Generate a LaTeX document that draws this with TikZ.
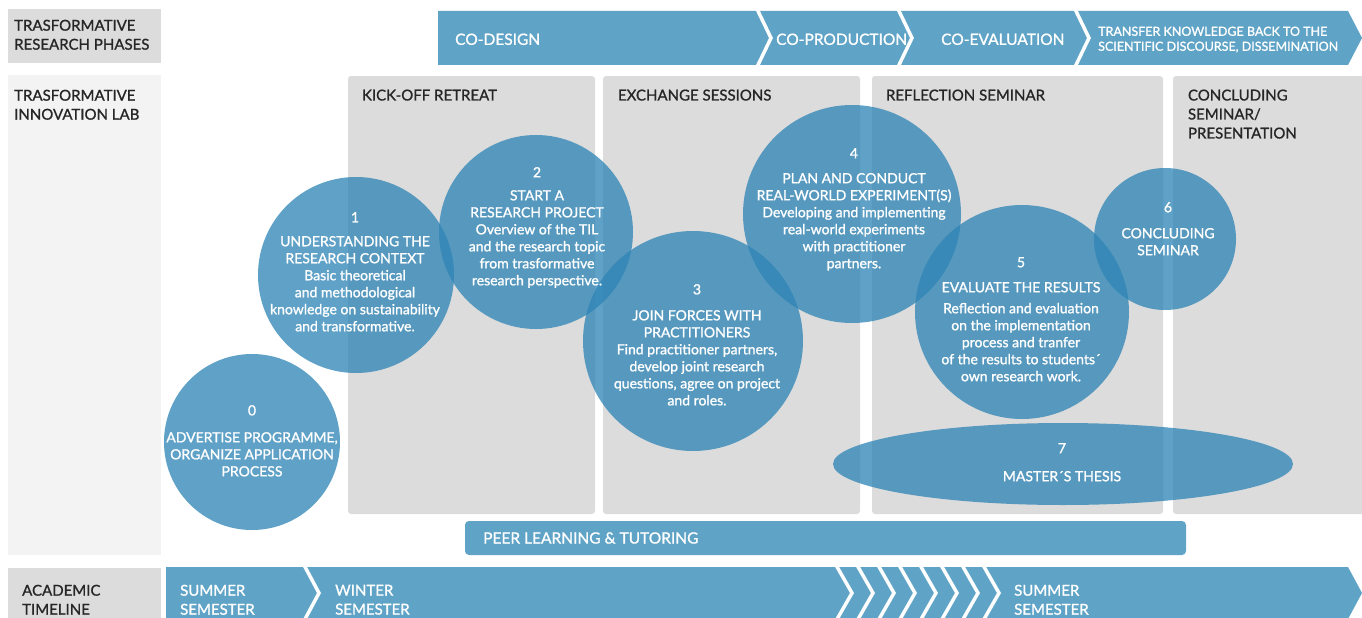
\documentclass[tikz,border=0pt]{standalone}
\usepackage{fontspec}
\setmainfont{Lato}
\newfontfamily\medfont{Lato}[FakeBold=1.1]
\usetikzlibrary{shapes.geometric,positioning}
\definecolor{bandblue}{HTML}{5FA3C6}
\definecolor{circblue}{HTML}{2F85B6}
\definecolor{panelgray}{HTML}{DCDCDC}
\definecolor{lightgray}{HTML}{F3F3F3}
\definecolor{textdark}{HTML}{262626}
\tikzstyle{labelbox}=[fill=panelgray, inner sep=0pt]
\tikzstyle{panel}=[fill=panelgray, rounded corners=3pt, inner sep=0pt, minimum height=438pt]
\tikzstyle{circ}=[circle, fill=circblue, fill opacity=0.77, inner sep=0pt]
\tikzstyle{circtext}=[text=white, align=center, anchor=north, inner sep=0pt, font=\medfont\fontsize{14}{17}\selectfont]
\tikzstyle{rowlabel}=[text=textdark, align=left, anchor=north west, inner sep=0pt, font=\medfont\fontsize{15}{19}\selectfont]
\tikzstyle{coltitle}=[text=textdark, align=left, anchor=north west, inner sep=0pt, font=\medfont\fontsize{15}{19}\selectfont]
\tikzstyle{bandtext}=[text=white, align=left, anchor=north west, inner sep=0pt, font=\medfont\fontsize{15.5}{19}\selectfont]
\tikzstyle{gap}=[white, line width=3.5pt]

\begin{document}
\begin{tikzpicture}[x=1pt, y=-1pt]
	\useasboundingbox (0,0) rectangle (1362,618);
	% row labels
	\node[labelbox, minimum width=153pt, minimum height=54pt] (phasebox) at (84.5,36) {};
	\node[fill=lightgray, inner sep=0pt, minimum width=153pt, minimum height=480pt] (labbox) at (84.5,315) {};
	\node[labelbox, minimum width=153pt, minimum height=52pt] (timebox) at (84.5,594) {};
	\node[rowlabel] (phasename) at (14,19.6) {TRASFORMATIVE\\RESEARCH PHASES};
	\node[rowlabel] (labname) at (14,89.6) {TRASFORMATIVE\\INNOVATION LAB};
	\node[rowlabel] (timename) at (22,584.6) {ACADEMIC\\TIMELINE};
	% research phases
	\fill[bandblue] (438,11) -- (1348,11) -- (1362,38) -- (1348,65) -- (438,65) -- cycle;
	\foreach \x in {757,898,1075}
		\draw[gap] (\x,9) -- (\x+14,38) -- (\x,67);
	\node[bandtext] (codesign) at (455,33.4) {CO-DESIGN};
	\node[bandtext] (coprod) at (776,33.4) {CO-PRODUCTION};
	\node[bandtext] (coeval) at (941,33.4) {CO-EVALUATION};
	\node[bandtext, font=\medfont\fontsize{12.5}{15}\selectfont] (transfer) at (1098,26.5) {TRANSFER KNOWLEDGE BACK TO THE\\SCIENTIFIC DISCOURSE, DISSEMINATION};
	% lab sessions
	\node[panel, minimum width=247pt] (kick) at (471.5,295) {};
	\node[panel, minimum width=257pt] (exch) at (731.5,295) {};
	\node[panel, minimum width=291pt] (refl) at (1017.5,295) {};
	\node[panel, minimum width=192pt] (concl) at (1269,295) {};
	\node[coltitle] (kickname) at ([shift={(14,13.6)}]kick.north west) {KICK-OFF RETREAT};
	\node[coltitle] (exchname) at ([shift={(15,13.6)}]exch.north west) {EXCHANGE SESSIONS};
	\node[coltitle] (reflname) at ([shift={(14,13.6)}]refl.north west) {REFLECTION SEMINAR};
	\node[coltitle] (conclname) at ([shift={(15,13.6)}]concl.north west) {CONCLUDING\\SEMINAR/\\PRESENTATION};
	\node[fill=bandblue, rounded corners=4pt, inner sep=0pt, minimum width=721pt, minimum height=34pt] (peer) at (825.5,538) {};
	\node[bandtext, anchor=west] (peername) at (483,538) {PEER LEARNING \& TUTORING};
	% steps
	\node[circ, minimum size=176pt] (c0) at (252,442) {};
	\node[circ, minimum size=196pt] (c1) at (356,275) {};
	\node[circ, minimum size=194pt] (c2) at (536,232) {};
	\node[circ, minimum size=220pt] (c3) at (693,341) {};
	\node[circ, minimum size=218pt] (c4) at (852,214) {};
	\node[circ, minimum size=214pt] (c5) at (1022,312) {};
	\node[circ, minimum size=142pt] (c6) at (1165,239) {};
	\node[circ, ellipse, minimum width=460pt, minimum height=82pt] (c7) at (1063,464) {};
	\node[circtext] (t0) at (252,405) {0\\[10pt]ADVERTISE PROGRAMME,\\ORGANIZE APPLICATION\\PROCESS};
	\node[circtext] (t1) at (355,212) {1\\[7pt]UNDERSTANDING THE\\RESEARCH CONTEXT\\Basic theoretical\\and methodological\\knowledge on sustainability\\and transformative.};
	\node[circtext] (t2) at (537,167) {2\\[6pt]START A\\RESEARCH PROJECT\\Overview of the TIL\\and the research topic\\from trasformative\\research perspective.};
	\node[circtext] (t3) at (697,284) {3\\[9pt]JOIN FORCES WITH\\PRACTITIONERS\\Find practitioner partners,\\develop joint research\\questions, agree on project\\and roles.};
	\node[circtext] (t4) at (854,148) {4\\[8pt]PLAN AND CONDUCT\\REAL-WORLD EXPERIMENT(S)\\Developing and implementing\\real-world experiments\\with practitioner\\partners.};
	\node[circtext] (t5) at (1021,257) {5\\[8pt]EVALUATE THE RESULTS\\[4pt]Reflection and evaluation\\on the implementation\\process and tranfer\\of the results to students´\\own research work.};
	\node[circtext] (t6) at (1168,202) {6\\[9pt]CONCLUDING\\SEMINAR};
	\node[circtext] (t7) at (1062,443) {7\\[11pt]MASTER´S THESIS};
	% academic timeline
	\fill[bandblue] (166,567) -- (1348,567) -- (1362,593) -- (1348,619) -- (166,619) -- cycle;
	\draw[gap] (304,565) -- (319,593) -- (304,621);
	\foreach \i in {0,...,7}
		\draw[gap] (836+21*\i,565) -- (852+21*\i,593) -- (836+21*\i,621);
	\node[bandtext, font=\medfont\fontsize{15}{19}\selectfont] (summer) at (180,584.6) {SUMMER\\SEMESTER};
	\node[bandtext, font=\medfont\fontsize{15}{19}\selectfont] (winter) at (335,584.6) {WINTER\\SEMESTER};
	\node[bandtext, font=\medfont\fontsize{15}{19}\selectfont] (summertwo) at (1014,584.6) {SUMMER\\SEMESTER};
\end{tikzpicture}
\end{document}
